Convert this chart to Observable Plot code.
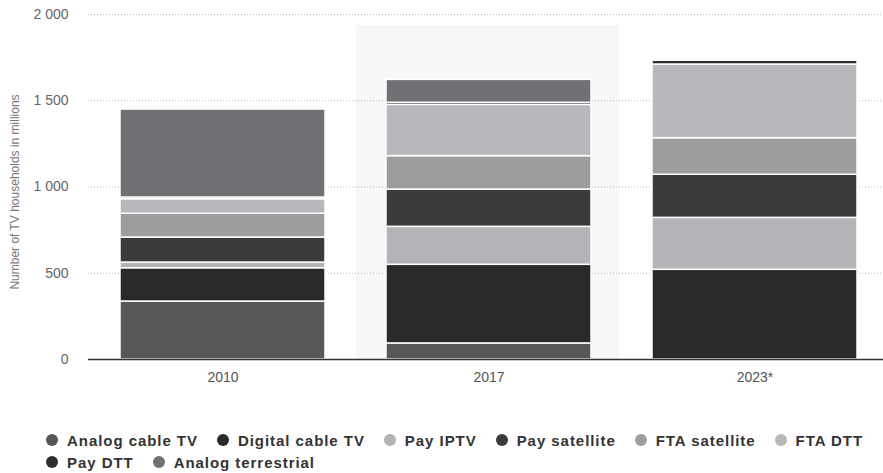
<!DOCTYPE html>
<html>
<head>
<meta charset="utf-8">
<script src="https://cdn.jsdelivr.net/npm/d3@7"></script>
<script src="https://cdn.jsdelivr.net/npm/@observablehq/plot@0.6"></script>
<style>
  html, body { margin: 0; padding: 0; background: #fff; }
  #wrap { position: relative; width: 883px; height: 473px; font-family: "Liberation Sans", Arial, sans-serif; overflow: hidden; }
  #legend { position: absolute; top: 432px; left: 46px; width: 860px; display: flex; flex-wrap: wrap; row-gap: 6px; }
  .item { display: flex; align-items: center; margin-right: 19px; font-weight: bold; font-size: 15px; color: #333; letter-spacing: 0.95px; white-space: nowrap; height: 16px; }
  .dot { width: 12px; height: 12px; border-radius: 50%; margin-right: 9px; }
</style>
</head>
<body>
<div id="wrap">
  <div id="chart"></div>
  <div id="legend"></div>
</div>
<script>
const years = ["2010", "2017", "2023*"];
const series = ["Analog cable TV", "Digital cable TV", "Pay IPTV", "Pay satellite", "FTA satellite", "FTA DTT", "Pay DTT", "Analog terrestrial"];
const colors = ["#57575a", "#2b2a2b", "#b3b4b7", "#3b3b3c", "#9c9d9f", "#b7b8bb", "#2e2e2f", "#707174"];

const analogCable       = [336,  93,   0];
const digitalCable      = [193, 456, 520];
const payIPTV           = [ 33, 220, 301];
const paySatellite      = [145, 216, 250];
const ftaSatellite      = [138, 194, 212];
const ftaDTT            = [ 84, 297, 427];
const payDTT            = [ 10,  12,  22];
const analogTerrestrial = [510, 133,   0];

const yTicks = [0, 500, 1000, 1500, 2000];
const highlight = [{year: "2017", top: 1935}];
const yLabel = "Number of TV households in millions";

const seriesValues = [analogCable, digitalCable, payIPTV, paySatellite, ftaSatellite, ftaDTT, payDTT, analogTerrestrial];
const table = [];
seriesValues.forEach((vals, si) => {
  vals.forEach((v, yi) => table.push({year: years[yi], series: series[si], value: v}));
});

const fmt = d => d3.format(",")(d).replace(/,/g, " ");

const chart = Plot.plot({
  width: 883,
  height: 400,
  marginTop: 14,
  marginBottom: 41,
  marginLeft: 88,
  marginRight: 0,
  style: {fontFamily: "Liberation Sans, Arial, sans-serif", background: "transparent"},
  x: {domain: years, range: [88, 888], paddingInner: 0.23, paddingOuter: 0.115, label: null},
  y: {domain: [0, 2000], label: null},
  color: {domain: series, range: colors},
  marks: [
    Plot.barY(highlight, {x: "year", y1: 0, y2: "top", fill: "#f7f7f7", insetLeft: -30, insetRight: -28}),
    Plot.gridY(yTicks, {stroke: "#bbb", strokeOpacity: 1, strokeDasharray: "1,2", strokeWidth: 1}),
    Plot.axisY(yTicks, {tickSize: 0, tickPadding: 20, tickFormat: fmt, fontSize: 14, fill: "#666", label: null}),
    Plot.axisX({tickSize: 0, tickPadding: 13, fontSize: 14, fill: "#555", label: null}),
    Plot.barY(table, {x: "year", y: "value", fill: "series", stroke: "#fff", strokeWidth: 1.5, order: null}),
    Plot.ruleY([0], {stroke: "#333", strokeWidth: 1.5}),
    Plot.text([yLabel], {frameAnchor: "left", textAnchor: "middle", rotate: -90, dx: -73, dy: 5, fontSize: 12, fill: "#777"})
  ]
});
document.getElementById("chart").appendChild(chart);

const legend = document.getElementById("legend");
series.forEach((s, i) => {
  const it = document.createElement("div");
  it.className = "item";
  const dot = document.createElement("span");
  dot.className = "dot";
  dot.style.background = colors[i];
  it.appendChild(dot);
  it.appendChild(document.createTextNode(s));
  legend.appendChild(it);
});
</script>
</body>
</html>
